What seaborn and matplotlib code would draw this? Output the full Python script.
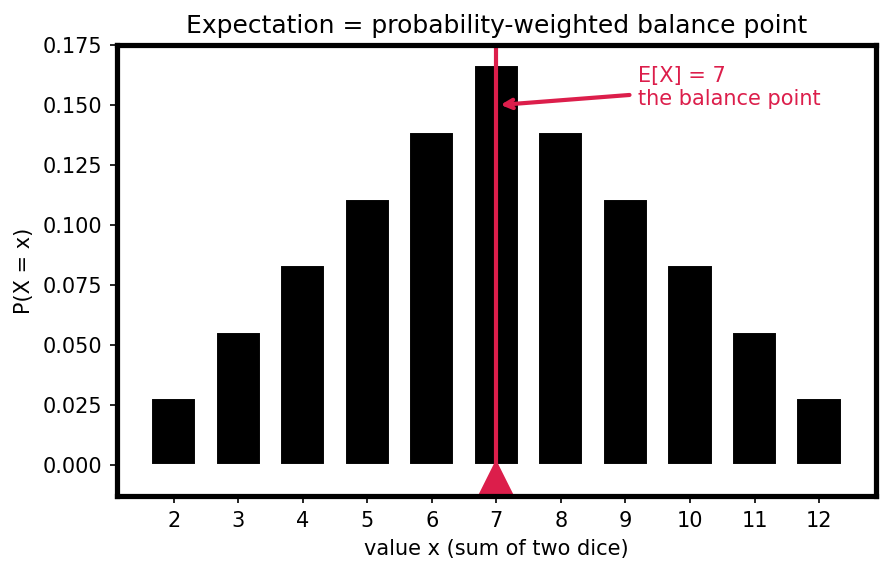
import matplotlib
matplotlib.use("Agg")
import matplotlib.pyplot as plt
import numpy as np
import pandas as pd
import seaborn as sns

# Sum of two dice: outcome counts out of 36
sums = [2, 3, 4, 5, 6, 7, 8, 9, 10, 11, 12]
counts = [1, 2, 3, 4, 5, 6, 5, 4, 3, 2, 1]
expected = 7

df = pd.DataFrame({"x": sums, "p": np.array(counts) / 36})

sns.set_style("ticks", rc={"text.color": "black", "axes.labelcolor": "black",
                           "xtick.color": "black", "ytick.color": "black"})
plt.rcParams["font.family"] = ["DejaVu Sans"]

fig = plt.figure(figsize=(5.93, 3.82), dpi=150)
ax = fig.add_axes([0.131, 0.134, 0.854, 0.787])

sns.barplot(data=df, x="x", y="p", native_scale=True, color="black",
            width=0.7, saturation=1, ax=ax)
ax.set_xlim(1.115, 12.885)
ax.set_ylim(-0.013, 0.175)
ax.set_xticks(sums)
ax.set_yticks(np.arange(0, 0.176, 0.025))
ax.yaxis.set_major_formatter(matplotlib.ticker.FormatStrFormatter("%.3f"))

red = "#DC1E4B"
ax.axvline(expected, color=red, lw=2)
ax.plot([expected], [-0.0055], marker="^", ms=15, color=red, clip_on=False)
ax.annotate("E[X] = 7\nthe balance point", xy=(7.0, 0.15), xytext=(9.2, 0.1575),
            color=red, fontsize=10, va="center", ha="left",
            arrowprops=dict(arrowstyle="->", color=red, lw=2))

for s in ax.spines.values():
    s.set_visible(True)
    s.set_linewidth(2.5)
    s.set_color("black")

ax.set_xlabel("value x (sum of two dice)", fontsize=10)
ax.set_ylabel("P(X = x)", fontsize=10)
ax.set_title("Expectation = probability-weighted balance point", fontsize=12)

fig.savefig("out.png", dpi=150)
